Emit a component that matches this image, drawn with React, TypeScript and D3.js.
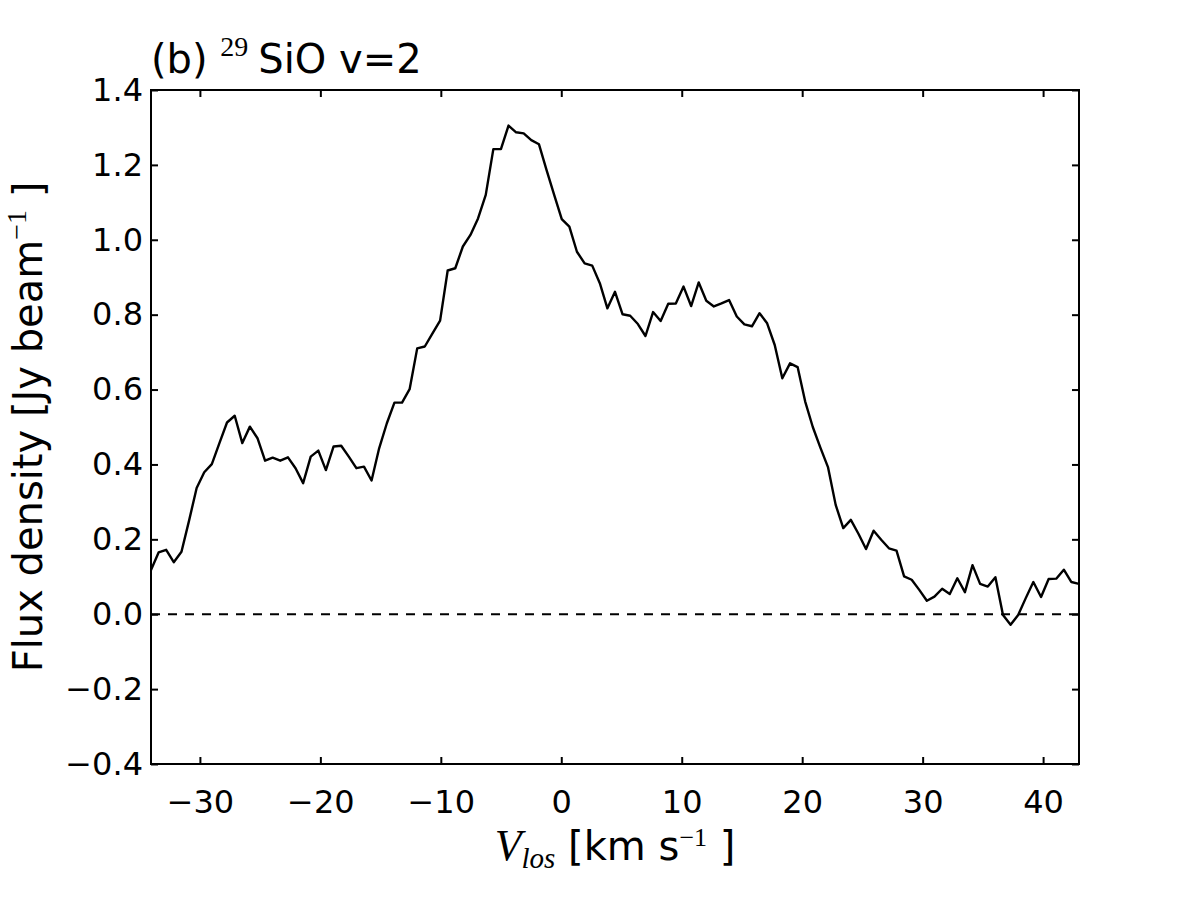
import React, { useEffect, useRef } from 'react'
import * as d3 from 'd3'

const width = 1200
const height = 900
const margin = { top: 90, right: 121, bottom: 136, left: 151 }

// channel velocities [km/s]
const velocity = [
  -34.06, -33.43, -32.80, -32.17, -31.53, -30.90, -30.27, -29.64, -29.01, -28.38,
  -27.75, -27.11, -26.48, -25.85, -25.22, -24.59, -23.96, -23.33, -22.69, -22.06,
  -21.43, -20.80, -20.17, -19.54, -18.90, -18.27, -17.64, -17.01, -16.38, -15.75,
  -15.12, -14.48, -13.85, -13.22, -12.59, -11.96, -11.33, -10.69, -10.06, -9.43,
  -8.80, -8.17, -7.54, -6.91, -6.27, -5.64, -5.01, -4.38, -3.75, -3.12,
  -2.49, -1.85, -1.22, -0.59, 0.04, 0.67, 1.30, 1.94, 2.57, 3.20,
  3.83, 4.46, 5.09, 5.72, 6.36, 6.99, 7.62, 8.25, 8.88, 9.51,
  10.15, 10.78, 11.41, 12.04, 12.67, 13.30, 13.93, 14.57, 15.20, 15.83,
  16.46, 17.09, 17.72, 18.35, 18.99, 19.62, 20.25, 20.88, 21.51, 22.14,
  22.78, 23.41, 24.04, 24.67, 25.30, 25.93, 26.56, 27.20, 27.83, 28.46,
  29.09, 29.72, 30.35, 30.98, 31.62, 32.25, 32.88, 33.51, 34.14, 34.77,
  35.41, 36.04, 36.67, 37.30, 37.93, 38.56, 39.19, 39.83, 40.46, 41.09,
  41.72, 42.35, 42.98,
]

// flux density [Jy/beam]
const flux = [
  0.118, 0.165, 0.172, 0.139, 0.167, 0.25, 0.337, 0.379, 0.401, 0.457,
  0.512, 0.530, 0.457, 0.501, 0.470, 0.410, 0.418, 0.410, 0.419, 0.390,
  0.350, 0.421, 0.437, 0.385, 0.448, 0.450, 0.421, 0.390, 0.394, 0.357,
  0.443, 0.510, 0.565, 0.565, 0.601, 0.710, 0.715, 0.750, 0.784, 0.918,
  0.924, 0.982, 1.013, 1.057, 1.120, 1.242, 1.242, 1.305, 1.287, 1.284,
  1.266, 1.255, 1.186, 1.120, 1.055, 1.035, 0.968, 0.937, 0.931, 0.884,
  0.817, 0.861, 0.801, 0.797, 0.775, 0.743, 0.807, 0.783, 0.829, 0.830,
  0.875, 0.823, 0.886, 0.837, 0.822, 0.830, 0.839, 0.795, 0.774, 0.769,
  0.804, 0.777, 0.719, 0.630, 0.670, 0.660, 0.568, 0.500, 0.445, 0.393,
  0.292, 0.230, 0.252, 0.215, 0.174, 0.223, 0.199, 0.176, 0.170, 0.101,
  0.092, 0.065, 0.036, 0.047, 0.068, 0.054, 0.096, 0.059, 0.131, 0.081,
  0.074, 0.099, -0.002, -0.028, -0.002, 0.043, 0.086, 0.046, 0.094, 0.095,
  0.119, 0.086, 0.081,
]

const xTicks = [-30, -20, -10, 0, 10, 20, 30, 40]
const yTicks = [-0.4, -0.2, 0.0, 0.2, 0.4, 0.6, 0.8, 1.0, 1.2, 1.4]
const xDomain = [-34.06, 42.98]
const yDomain = [-0.4, 1.4]

const sans = "'DejaVu Sans', sans-serif"
const serif = "'Liberation Serif', 'DejaVu Serif', serif"

const App = () => {
  const ref = useRef<SVGSVGElement>(null)

  useEffect(() => {
    if (!ref.current) return
    const svg = d3.select(ref.current)
    svg.selectAll('*').remove()

    const x = d3.scaleLinear().domain(xDomain).range([margin.left, width - margin.right])
    const y = d3.scaleLinear().domain(yDomain).range([height - margin.bottom, margin.top])
    const tick = 7

    svg.append('rect').attr('width', width).attr('height', height).attr('fill', 'white')

    svg.append('clipPath').attr('id', 'plot-clip')
      .append('rect')
      .attr('x', margin.left).attr('y', margin.top)
      .attr('width', width - margin.left - margin.right)
      .attr('height', height - margin.top - margin.bottom)

    // zero line
    svg.append('line')
      .attr('x1', x(xDomain[0])).attr('x2', x(xDomain[1]))
      .attr('y1', y(0)).attr('y2', y(0))
      .attr('stroke', 'black').attr('stroke-width', 2)
      .attr('stroke-dasharray', '9,8')

    // spectrum
    const line = d3.line<number>()
      .x((d, i) => x(velocity[i]))
      .y(d => y(d))
    svg.append('path')
      .datum(flux)
      .attr('clip-path', 'url(#plot-clip)')
      .attr('d', line)
      .attr('fill', 'none')
      .attr('stroke', 'black')
      .attr('stroke-width', 2.4)
      .attr('stroke-linejoin', 'round')

    // axes, ticks inward on all sides
    const styleAxis = (g, labels) => {
      g.attr('font-family', sans).attr('font-size', 32)
      g.select('.domain').remove()
      g.selectAll('.tick line').attr('stroke', 'black').attr('stroke-width', 2)
      g.selectAll('.tick text').attr('fill', 'black')
      if (!labels) g.selectAll('.tick text').remove()
    }

    svg.append('g')
      .attr('transform', `translate(0,${height - margin.bottom})`)
      .call(d3.axisBottom(x).tickValues(xTicks).tickSizeInner(-tick).tickSizeOuter(0)
        .tickPadding(26).tickFormat(d3.format('d')))
      .call(g => styleAxis(g, true))
    svg.append('g')
      .attr('transform', `translate(0,${margin.top})`)
      .call(d3.axisTop(x).tickValues(xTicks).tickSizeInner(-tick).tickSizeOuter(0))
      .call(g => styleAxis(g, false))
    svg.append('g')
      .attr('transform', `translate(${margin.left},0)`)
      .call(d3.axisLeft(y).tickValues(yTicks).tickSizeInner(-tick).tickSizeOuter(0)
        .tickPadding(8).tickFormat(d3.format('.1f')))
      .call(g => styleAxis(g, true))
    svg.append('g')
      .attr('transform', `translate(${width - margin.right},0)`)
      .call(d3.axisRight(y).tickValues(yTicks).tickSizeInner(-tick).tickSizeOuter(0))
      .call(g => styleAxis(g, false))

    // frame
    svg.append('rect')
      .attr('x', margin.left).attr('y', margin.top)
      .attr('width', width - margin.left - margin.right)
      .attr('height', height - margin.top - margin.bottom)
      .attr('fill', 'none').attr('stroke', 'black').attr('stroke-width', 2)

    // title
    const title = svg.append('text')
      .attr('x', margin.left).attr('y', 73)
      .attr('font-family', sans).attr('font-size', 40)
      .style('white-space', 'pre')
    title.append('tspan').text('(b) ')
    title.append('tspan').attr('font-family', serif).attr('font-size', 28).attr('dy', -17).text('29')
    title.append('tspan').attr('dx', 10).attr('dy', 17).text('SiO v=2')

    // x label
    const xl = svg.append('text')
      .attr('x', (margin.left + width - margin.right) / 2).attr('y', 860)
      .attr('text-anchor', 'middle')
      .attr('font-family', sans).attr('font-size', 40)
      .style('white-space', 'pre')
    xl.append('tspan').attr('font-family', serif).attr('font-style', 'italic')
      .attr('font-size', 44).text('V')
    xl.append('tspan').attr('font-family', serif).attr('font-style', 'italic')
      .attr('font-size', 29).attr('dy', 8).text('los')
    xl.append('tspan').attr('dy', -8).text(' [km s')
    xl.append('tspan').attr('font-family', serif).attr('font-size', 26).attr('dy', -14).text('−1')
    xl.append('tspan').attr('dy', 14).text(' ]')

    // y label
    const yl = svg.append('text')
      .attr('transform', `translate(42,${(margin.top + height - margin.bottom) / 2}) rotate(-90)`)
      .attr('text-anchor', 'middle')
      .attr('font-family', sans).attr('font-size', 40)
      .style('white-space', 'pre')
    yl.append('tspan').text('Flux density [Jy beam')
    yl.append('tspan').attr('font-family', serif).attr('font-size', 28).attr('dy', -16).text('−1')
    yl.append('tspan').attr('dy', 16).text(' ]')
  }, [])

  return (
    <svg
      ref={ref}
      width={width}
      height={height}
      style={{ position: 'absolute', left: 0, top: 0 }}
    ></svg>
  )
}

export default App
